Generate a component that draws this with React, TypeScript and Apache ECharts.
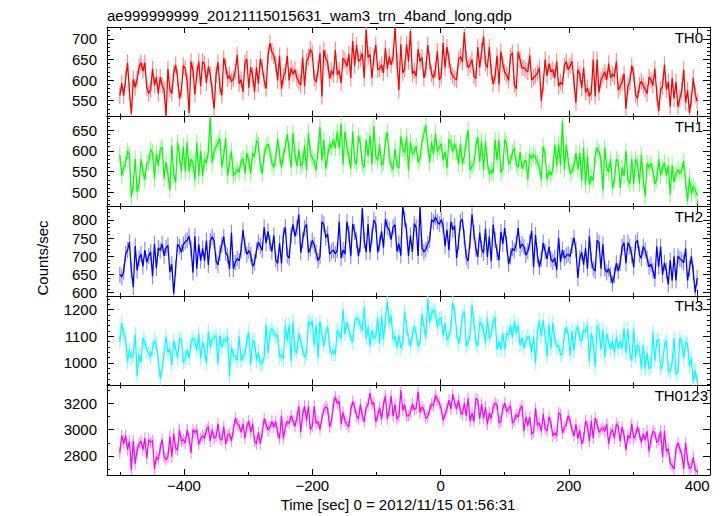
import React, { useEffect, useRef } from "react";
import * as echarts from "echarts";

// time bins: start (sec) and bin step (sec)
const tStart = -500;
const tStep = 3;

const th0Values = [
  562, 592, 562, 602, 642, 572, 518, 602, 582, 602, 632, 642, 622, 642, 582,
  567, 577, 627, 587, 607, 567, 607, 587, 577, 512, 627, 577, 567, 617, 637,
  605, 555, 575, 635, 628, 595, 520, 645, 625, 565, 615, 645, 585, 645, 638,
  593, 633, 613, 573, 530, 613, 643, 583, 563, 653, 633, 603, 612, 596, 603,
  621, 661, 591, 601, 571, 641, 651, 581, 631, 611, 571, 631, 591, 651, 631,
  599, 579, 659, 690, 669, 659, 639, 599, 659, 579, 609, 619, 659, 599, 629,
  615, 625, 605, 595, 588, 655, 585, 645, 655, 675, 665, 605, 595, 625, 665,
  560, 673, 653, 643, 603, 623, 613, 673, 613, 623, 593, 653, 646, 633, 663,
  605, 695, 635, 685, 645, 651, 665, 605, 722, 655, 662, 605, 655, 685, 625,
  627, 637, 617, 677, 627, 657, 637, 657, 727, 647, 575, 687, 617, 627, 687,
  645, 719, 615, 622, 609, 675, 645, 655, 605, 625, 685, 645, 615, 605, 625,
  670, 600, 610, 690, 630, 680, 650, 620, 610, 604, 600, 650, 657, 644, 716,
  650, 630, 637, 650, 610, 603, 680, 630, 670, 705, 640, 630, 680, 620, 590,
  609, 659, 589, 669, 639, 619, 612, 599, 659, 666, 589, 579, 669, 649, 629,
  630, 624, 620, 660, 600, 606, 610, 617, 630, 550, 590, 650, 610, 640, 620,
  625, 605, 645, 585, 595, 588, 635, 645, 625, 635, 645, 595, 545, 625, 615,
  580, 630, 570, 580, 560, 570, 650, 560, 650, 570, 600, 610, 620, 600, 640,
  605, 615, 608, 645, 575, 585, 595, 615, 530, 585, 595, 635, 615, 565, 555,
  587, 597, 587, 577, 567, 607, 600, 587, 627, 567, 525, 577, 584, 637, 577,
  595, 535, 605, 555, 595, 535, 555, 575, 625, 545, 575, 520, 555, 605, 565,
  548,
];

const th1Values = [
  590, 540, 560, 570, 600, 590, 487, 520, 580, 500, 520, 580, 550, 530, 570,
  573, 603, 596, 533, 593, 563, 603, 610, 533, 573, 543, 505, 613, 543, 523,
  620, 590, 550, 610, 550, 620, 550, 580, 570, 530, 620, 540, 600, 540, 580,
  570, 600, 683, 570, 600, 610, 620, 630, 560, 590, 630, 540, 570, 600, 540,
  545, 555, 548, 575, 582, 545, 595, 575, 545, 595, 585, 625, 618, 565, 545,
  590, 610, 617, 600, 570, 560, 580, 630, 590, 560, 590, 610, 640, 600, 560,
  643, 593, 563, 603, 563, 570, 613, 553, 643, 593, 583, 576, 553, 603, 658,
  577, 627, 557, 587, 617, 607, 627, 607, 647, 607, 665, 567, 647, 607, 587,
  557, 647, 577, 567, 637, 617, 567, 560, 627, 587, 637, 567, 660, 587, 577,
  615, 565, 572, 625, 645, 585, 565, 555, 605, 565, 558, 635, 605, 595, 635,
  552, 622, 592, 599, 612, 572, 582, 622, 642, 662, 612, 572, 622, 592, 642,
  598, 608, 618, 578, 598, 558, 628, 621, 598, 618, 598, 568, 618, 568, 588,
  623, 650, 553, 563, 570, 613, 633, 573, 623, 553, 623, 573, 543, 553, 546,
  627, 577, 627, 547, 557, 627, 617, 567, 574, 597, 607, 567, 560, 597, 557,
  571, 578, 531, 591, 581, 591, 584, 571, 561, 531, 611, 591, 531, 551, 541,
  555, 615, 565, 615, 565, 672, 555, 615, 575, 545, 552, 565, 595, 555, 595,
  528, 608, 518, 588, 518, 538, 528, 588, 608, 598, 578, 505, 608, 558, 548,
  580, 510, 530, 580, 573, 510, 560, 540, 600, 530, 520, 580, 520, 580, 570,
  520, 590, 530, 490, 570, 560, 570, 550, 520, 530, 580, 540, 560, 570, 540,
  565, 495, 565, 525, 545, 555, 545, 552, 575, 525, 478, 535, 495, 515, 505,
  492,
];

const th2Values = [
  650, 643, 657, 706, 717, 739, 661, 615, 728, 661, 694, 706, 672, 717, 683,
  701, 712, 645, 734, 667, 723, 716, 734, 701, 723, 730, 656, 678, 597, 667,
  733, 726, 711, 733, 740, 744, 755, 722, 655, 755, 666, 733, 688, 722, 688,
  743, 676, 743, 754, 743, 687, 676, 709, 732, 754, 709, 702, 665, 765, 665,
  683, 694, 687, 716, 772, 728, 705, 716, 705, 672, 683, 716, 739, 728, 716,
  780, 736, 769, 736, 713, 758, 691, 680, 736, 680, 758, 780, 702, 695, 758,
  788, 755, 777, 815, 710, 744, 777, 788, 710, 721, 744, 732, 710, 688, 699,
  795, 788, 751, 762, 706, 713, 717, 706, 717, 795, 695, 717, 706, 795, 762,
  700, 789, 767, 744, 700, 733, 832, 744, 711, 789, 711, 756, 800, 789, 711,
  735, 769, 724, 802, 780, 773, 746, 780, 787, 713, 735, 702, 838, 802, 769,
  701, 757, 712, 790, 779, 701, 835, 723, 712, 719, 734, 745, 801, 794, 808,
  795, 788, 801, 784, 728, 773, 717, 795, 773, 784, 695, 739, 795, 802, 751,
  698, 687, 743, 815, 765, 720, 698, 765, 720, 709, 776, 698, 754, 687, 787,
  745, 711, 689, 767, 734, 778, 734, 678, 700, 722, 715, 734, 778, 722, 734,
  726, 703, 714, 737, 770, 670, 759, 703, 670, 692, 737, 714, 692, 726, 692,
  684, 695, 662, 751, 684, 718, 695, 702, 706, 699, 729, 751, 718, 640, 695,
  711, 677, 722, 666, 755, 688, 666, 659, 744, 737, 666, 733, 666, 655, 666,
  648, 625, 648, 681, 659, 681, 726, 737, 681, 737, 726, 704, 670, 737, 744,
  705, 694, 727, 716, 694, 671, 678, 660, 638, 727, 671, 727, 649, 682, 660,
  622, 689, 633, 700, 633, 700, 693, 689, 682, 722, 633, 666, 700, 655, 600,
  640,
];

const th3Values = [
  1080, 1150, 1108, 1093, 1002, 1048, 1017, 1032, 1108, 950, 1032, 1002, 1093, 1078, 1048,
  1038, 1022, 1053, 1083, 1068, 1007, 940, 977, 1038, 1098, 1038, 1053, 992, 1083, 1053,
  1017, 1093, 1086, 1002, 1017, 1048, 1017, 1078, 1093, 1078, 1048, 1108, 1017, 1078, 1048,
  997, 1118, 1058, 1088, 1095, 1103, 997, 1103, 1058, 1088, 1081, 1103, 950, 1058, 1027,
  1024, 1009, 1100, 1009, 1024, 1031, 1085, 1115, 994, 1085, 1078, 1009, 1039, 994, 1001,
  1022, 1143, 1037, 1113, 1128, 1113, 1098, 1105, 1022, 1029, 1015, 1143, 1083, 1143, 1007,
  1156, 1050, 1035, 1111, 1080, 1050, 1020, 1035, 1156, 1141, 1156, 1065, 1141, 1020, 1156,
  1108, 1062, 1108, 1138, 1062, 1032, 1047, 1032, 1123, 1108, 1092, 1200, 1108, 1153, 1123,
  1092, 1077, 1153, 1168, 1161, 1138, 1123, 1210, 1092, 1138, 1062, 1123, 1092, 1099, 1168,
  1072, 1178, 1087, 1163, 1230, 1148, 1178, 1087, 1102, 1057, 1102, 1057, 1072, 1193, 1133,
  1092, 1062, 1107, 1138, 1107, 1062, 1077, 1183, 1138, 1092, 1240, 1153, 1183, 1198, 1191,
  1133, 1163, 1170, 1102, 1148, 1087, 1094, 1133, 1225, 1193, 1117, 1072, 1102, 1178, 1193,
  1062, 1077, 1107, 1215, 1153, 1077, 1062, 1153, 1146, 1123, 1077, 1168, 1092, 1107, 1153,
  1171, 1050, 1080, 1050, 1111, 1050, 1111, 1104, 1141, 1095, 1156, 1111, 1141, 1065, 1095,
  1054, 1084, 1100, 1084, 1039, 1100, 1000, 1115, 1160, 1100, 1160, 1100, 1024, 1145, 1054,
  1150, 1090, 1059, 1066, 1029, 1036, 1105, 1135, 1105, 1029, 1120, 1044, 1120, 1135, 1090,
  1080, 1125, 1118, 1140, 1004, 1110, 1080, 985, 1140, 1125, 1049, 1125, 1019, 1110, 1080,
  1052, 1083, 1037, 1098, 1052, 1083, 1052, 1128, 1037, 1128, 1037, 1007, 1128, 1022, 1068,
  1053, 977, 1068, 977, 1037, 977, 984, 1113, 1007, 1083, 1090, 977, 992, 1068, 1083,
  972, 965, 1002, 1093, 957, 964, 1093, 1078, 1017, 1078, 1071, 987, 1017, 925, 972,
  930,
];

const th0123Values = [
  2825, 2957, 2891, 2957, 2847, 2913, 2695, 2913, 2740, 2847, 2891, 2913, 2847, 2935, 2781,
  2925, 2903, 2917, 2700, 2793, 2771, 2859, 2925, 2793, 2771, 2793, 2947, 2793, 2969, 2859,
  2845, 2999, 2911, 2925, 2897, 2999, 2933, 2823, 2999, 2977, 2999, 2889, 2933, 2955, 2933,
  3000, 3022, 2912, 3000, 2934, 2948, 3044, 2934, 2920, 3022, 2890, 2956, 2970, 2912, 3000,
  3089, 3045, 3031, 2979, 3045, 2935, 3023, 3067, 2979, 3045, 2913, 2891, 2979, 2891, 2979,
  3085, 3041, 2997, 3019, 3063, 3019, 3063, 2975, 2931, 3107, 2931, 3019, 3063, 3049, 3107,
  3069, 3025, 3091, 3179, 2981, 3113, 3179, 3069, 3179, 3003, 3025, 3179, 3047, 3061, 3003,
  3087, 3153, 3175, 3161, 3021, 3065, 3197, 3250, 3197, 3219, 3043, 3131, 3065, 3043, 3021,
  3149, 3215, 3171, 3105, 3083, 3193, 3105, 3061, 3171, 3193, 3280, 3193, 3207, 3061, 3105,
  3169, 3081, 3191, 3257, 3081, 3147, 3257, 3103, 3191, 3081, 3103, 3300, 3147, 3191, 3103,
  3108, 3130, 3196, 3152, 3166, 3290, 3130, 3174, 3152, 3086, 3100, 3152, 3196, 3182, 3262,
  3225, 3203, 3159, 3071, 3115, 3159, 3225, 3159, 3269, 3203, 3159, 3225, 3137, 3115, 3203,
  3107, 3239, 3063, 3129, 3063, 3239, 3225, 3085, 3195, 3085, 3173, 3041, 3129, 3085, 3173,
  3204, 3190, 3050, 3064, 3160, 3204, 3138, 3160, 3182, 3050, 3072, 3116, 3094, 3160, 3182,
  2988, 3098, 3032, 3098, 2966, 2980, 3164, 3032, 3054, 2988, 3120, 3010, 2988, 3098, 3054,
  2953, 2975, 2953, 3129, 3115, 2975, 3019, 3041, 3107, 3063, 2997, 2953, 3041, 2931, 2997,
  2891, 2935, 3067, 3023, 2913, 3067, 2935, 3089, 3045, 2979, 3001, 3015, 2987, 3045, 2891,
  2978, 3000, 2934, 3044, 3022, 2912, 3022, 2956, 2846, 2956, 2934, 3044, 2934, 2956, 3022,
  2967, 2901, 2967, 2923, 2989, 2835, 2923, 2989, 2975, 2901, 2923, 2989, 2791, 2989, 2835,
  2855, 2745, 2723, 2701, 2855, 2899, 2855, 2811, 2701, 2899, 2767, 2701, 2715, 2790, 2690,
  2680,
];

const panelNames = ["TH0", "TH1", "TH2", "TH3", "TH0123"];
const panelColors = ["#ff0000", "#00ff00", "#0000ff", "#00ffff", "#ff00ff"];
const errorColors = ["#ff8a8a", "#8aff8a", "#8a8aff", "#8affff", "#ff8aff"];
const errorBars = [20, 20, 22, 28, 45];
const yMins = [511, 466, 591, 915, 2654];
const yMaxs = [729, 683, 838, 1252, 3338];
const yMajorTicks = [
  [550, 600, 650, 700],
  [500, 550, 600, 650],
  [600, 650, 700, 750, 800],
  [1000, 1100, 1200],
  [2800, 3000, 3200],
];
const yMinorSteps = [10, 10, 10, 20, 100];
const xMin = -520;
const xMax = 420;
const xMajorTicks = [-400, -200, 0, 200, 400];
const xMinorTicks = [-500, -300, -100, 100, 300];
const titleText = "ae999999999_20121115015631_wam3_trn_4band_long.qdp";
const xTitle = "Time [sec] 0 = 2012/11/15 01:56:31";
const yTitle = "Counts/sec";

const seriesValues = [th0Values, th1Values, th2Values, th3Values, th0123Values];

const FONT = "'Liberation Sans', Arial, Helvetica, sans-serif";

export default function App() {
  const ref = useRef<HTMLDivElement>(null);

  useEffect(() => {
    if (!ref.current) return;
    const chart = echarts.init(ref.current, undefined, { renderer: "svg" });

    const gridLeft = 107;
    const gridWidth = 603;
    const gridTop0 = 27;
    const panelH = 89.6;
    const labelRight = [703, 703, 703, 703, 708];

    const grids: any[] = [];
    const xAxes: any[] = [];
    const yAxes: any[] = [];
    const series: any[] = [];
    const graphics: any[] = [];

    const minusFmt = (v: number) => String(v).replace("-", "\u2212");
    const plainFmt = (v: number) => String(v);

    for (let i = 0; i < 5; i++) {
      const top = gridTop0 + i * panelH;
      grids.push({ left: gridLeft, width: gridWidth, top, height: panelH, containLabel: false });

      const mkX = (pos: string, major: boolean, label: boolean) => ({
        type: "value",
        gridIndex: i,
        position: pos,
        min: xMin,
        max: xMax,
        axisLine: { show: major, onZero: false, lineStyle: { color: "#000", width: 1 } },
        axisTick: {
          show: true,
          inside: true,
          length: major ? 6 : 3,
          customValues: major ? xMajorTicks : xMinorTicks,
          lineStyle: { color: "#000", width: 1 },
        },
        axisLabel: {
          show: label,
          customValues: xMajorTicks,
          formatter: minusFmt,
          fontSize: 15,
          fontFamily: FONT,
          color: "#000",
          margin: 3,
        },
        splitLine: { show: false },
      });
      xAxes.push(mkX("bottom", true, i === 4));
      xAxes.push(mkX("bottom", false, false));
      xAxes.push(mkX("top", true, false));
      xAxes.push(mkX("top", false, false));

      const step = yMinorSteps[i];
      const minors: number[] = [];
      for (let v = Math.ceil(yMins[i] / step) * step; v <= yMaxs[i]; v += step) {
        if (!yMajorTicks[i].includes(v)) minors.push(v);
      }
      const mkY = (pos: string, major: boolean, label: boolean) => ({
        type: "value",
        gridIndex: i,
        position: pos,
        min: yMins[i],
        max: yMaxs[i],
        axisLine: { show: major, onZero: false, lineStyle: { color: "#000", width: 1 } },
        axisTick: {
          show: true,
          inside: true,
          length: major ? 7 : 3,
          customValues: major ? yMajorTicks[i] : minors,
          lineStyle: { color: "#000", width: 1 },
        },
        axisLabel: {
          show: label,
          customValues: yMajorTicks[i],
          formatter: plainFmt,
          fontSize: 15,
          fontFamily: FONT,
          color: "#000",
          margin: 10,
        },
        splitLine: { show: false },
      });
      yAxes.push(mkY("left", true, true));
      yAxes.push(mkY("left", false, false));
      yAxes.push(mkY("right", true, false));
      yAxes.push(mkY("right", false, false));

      const data = seriesValues[i].map((v, k) => [tStart + k * tStep, v]);
      const err = errorBars[i];
      const eColor = errorColors[i];
      series.push({
        type: "custom",
        xAxisIndex: i * 4,
        yAxisIndex: i * 4,
        clip: true,
        silent: true,
        data,
        encode: { x: 0, y: 1 },
        renderItem: (_p: any, api: any) => {
          const t = api.value(0);
          const v = api.value(1);
          const a = api.coord([t, v - err]);
          const b = api.coord([t, v + err]);
          return {
            type: "line",
            shape: { x1: a[0], y1: a[1], x2: b[0], y2: b[1] },
            style: { stroke: eColor, lineWidth: 1.2 },
          };
        },
      });
      series.push({
        type: "line",
        name: panelNames[i],
        xAxisIndex: i * 4,
        yAxisIndex: i * 4,
        data,
        showSymbol: false,
        symbol: "none",
        clip: true,
        lineStyle: { color: panelColors[i], width: 1.3 },
        itemStyle: { color: panelColors[i] },
        silent: true,
      });

      graphics.push({
        type: "text",
        x: labelRight[i],
        y: top + 10,
        style: {
          text: panelNames[i],
          align: "right",
          verticalAlign: "middle",
          font: `15px ${FONT}`,
          fill: "#000",
        },
      });
    }

    graphics.push({
      type: "text",
      x: 107,
      y: 15,
      style: { text: titleText, align: "left", verticalAlign: "middle", font: `15px ${FONT}`, fill: "#000" },
    });
    graphics.push({
      type: "text",
      x: 398,
      y: 504,
      style: { text: xTitle, align: "center", verticalAlign: "middle", font: `15px ${FONT}`, fill: "#000" },
    });
    graphics.push({
      type: "text",
      x: 42,
      y: 258,
      rotation: Math.PI / 2,
      style: { text: yTitle, align: "center", verticalAlign: "middle", font: `15px ${FONT}`, fill: "#000" },
    });

    chart.setOption({
      animation: false,
      backgroundColor: "#ffffff",
      textStyle: { fontFamily: FONT },
      grid: grids,
      xAxis: xAxes,
      yAxis: yAxes,
      series,
      graphic: graphics,
    });

    return () => chart.dispose();
  }, []);

  return (
    <div
      ref={ref}
      style={{ position: "fixed", left: 0, top: 0, width: 723, height: 516, background: "#fff" }}
    />
  );
}
